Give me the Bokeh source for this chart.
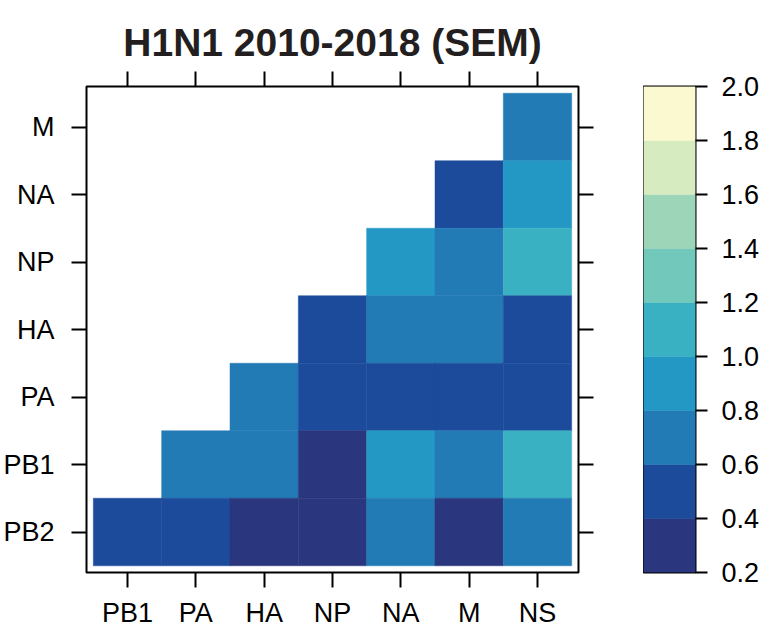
from bokeh.plotting import figure
from bokeh.models import (Range1d, LinearAxis, FixedTicker,
                          ColumnDataSource, NumeralTickFormatter)
from bokeh.layouts import row
from bokeh.transform import linear_cmap
from bokeh.embed import file_html
from bokeh.resources import INLINE

# ---- data ----
x_genes = ["PB1", "PA", "HA", "NP", "NA", "M", "NS"]
y_genes = ["PB2", "PB1", "PA", "HA", "NP", "NA", "M"]

# values per row (y gene), columns in x_genes order; None = empty cell
row_M   = [None, None, None, None, None, None, 0.70]
row_NA  = [None, None, None, None, None, 0.50, 0.90]
row_NP  = [None, None, None, None, 0.90, 0.70, 1.10]
row_HA  = [None, None, None, 0.50, 0.70, 0.70, 0.50]
row_PA  = [None, None, 0.70, 0.50, 0.50, 0.50, 0.50]
row_PB1 = [None, 0.70, 0.70, 0.30, 0.90, 0.70, 1.10]
row_PB2 = [0.50, 0.50, 0.30, 0.30, 0.70, 0.30, 0.70]

palette = ["#2a367d", "#1c4b9b", "#237bb6", "#2498c5", "#3ab0c3",
           "#72c9bb", "#9dd5b8", "#d7ebc0", "#fbf9cf"]
scale_edges = [0.2, 0.4, 0.6, 0.8, 1.0, 1.2, 1.4, 1.6, 1.8, 2.0]

title_text = "H1N1 2010-2018 (SEM)"
FONT = "Liberation Sans"

rows = {"M": row_M, "NA": row_NA, "NP": row_NP, "HA": row_HA,
        "PA": row_PA, "PB1": row_PB1, "PB2": row_PB2}
nx = len(x_genes); ny = len(y_genes)
x_pos = {g: i + 1 for i, g in enumerate(x_genes)}
y_pos = {g: i + 1 for i, g in enumerate(y_genes)}
xs, ys, vs = [], [], []
for yg, vals in rows.items():
    for xg, v in zip(x_genes, vals):
        if v is not None:
            xs.append(x_pos[xg]); ys.append(y_pos[yg]); vs.append(v)
src = ColumnDataSource(dict(x=xs, y=ys, v=vs))

TOP = 86
BOTTOM = 64
FH = 486

# ---- heatmap ----
p = figure(x_range=Range1d(0.4, nx + 0.6), y_range=Range1d(0.4, ny + 0.6),
           frame_width=492, frame_height=FH,
           x_axis_location=None, y_axis_location=None,
           min_border_left=86, min_border_right=65, min_border_top=0, min_border_bottom=BOTTOM,
           output_backend="svg", toolbar_location=None, title=title_text)
cmap = linear_cmap("v", palette, 0.2, 2.0)
p.rect(x="x", y="y", width=1, height=1, source=src, fill_color=cmap, line_color=cmap, line_width=0.5)

p.grid.visible = False
p.outline_line_color = "black"
p.outline_line_width = 2
p.background_fill_color = "white"
p.border_fill_color = "white"

p.title.text_font = FONT
p.title.text_font_size = "39px"
p.title.text_font_style = "bold"
p.title.text_color = "#231f20"
p.title.align = "center"
p.title.standoff = 16

x_ticks = [x_pos[g] for g in x_genes]
y_ticks = [y_pos[g] for g in y_genes]
bottom = LinearAxis(ticker=FixedTicker(ticks=x_ticks, minor_ticks=[]),
                    major_label_overrides={x_pos[g]: g for g in x_genes})
left = LinearAxis(ticker=FixedTicker(ticks=y_ticks, minor_ticks=[]),
                  major_label_overrides={y_pos[g]: g for g in y_genes})
top = LinearAxis(ticker=FixedTicker(ticks=[], minor_ticks=x_ticks))
right = LinearAxis(ticker=FixedTicker(ticks=[], minor_ticks=y_ticks))
p.add_layout(bottom, "below")
p.add_layout(left, "left")
p.add_layout(top, "above")
p.add_layout(right, "right")

for ax in [bottom, left]:
    ax.axis_line_color = None
    ax.major_tick_in = 0
    ax.major_tick_out = 15
    ax.major_tick_line_width = 2
    ax.major_tick_line_color = "black"
    ax.minor_tick_line_color = None
    ax.major_label_text_font = FONT
    ax.major_label_text_font_size = "27px"
    ax.major_label_text_color = "black"
for ax in [top, right]:
    ax.axis_line_color = None
    ax.major_tick_line_color = None
    ax.minor_tick_in = 0
    ax.minor_tick_out = 15
    ax.minor_tick_line_width = 2
    ax.minor_tick_line_color = "black"
    ax.major_label_standoff = 0
top.major_tick_out = 17
bottom.major_label_standoff = 10
left.major_label_standoff = 17

# ---- color key ----
c = figure(x_range=Range1d(0, 1), y_range=Range1d(scale_edges[0], scale_edges[-1]),
           frame_width=52, frame_height=FH,
           min_border_left=0, min_border_right=2, min_border_top=TOP, min_border_bottom=BOTTOM,
           y_axis_location="right", output_backend="svg", toolbar_location=None)
c.quad(left=0, right=1, bottom=scale_edges[:-1], top=scale_edges[1:],
       fill_color=palette, line_color=palette, line_width=0.5)
c.grid.visible = False
c.xaxis.visible = False
c.outline_line_color = "black"
c.outline_line_width = 2
ya = c.yaxis[0]
ya.ticker = FixedTicker(ticks=scale_edges)
ya.formatter = NumeralTickFormatter(format="0.0")
ya.axis_line_color = None
ya.major_tick_in = 0
ya.major_tick_out = 12
ya.major_tick_line_width = 2
ya.minor_tick_line_color = None
ya.major_label_standoff = 14
ya.major_label_text_font = FONT
ya.major_label_text_font_size = "27px"
ya.major_label_text_color = "black"

layout = row(p, c)
open("out.html", "w").write(file_html(layout, INLINE))
